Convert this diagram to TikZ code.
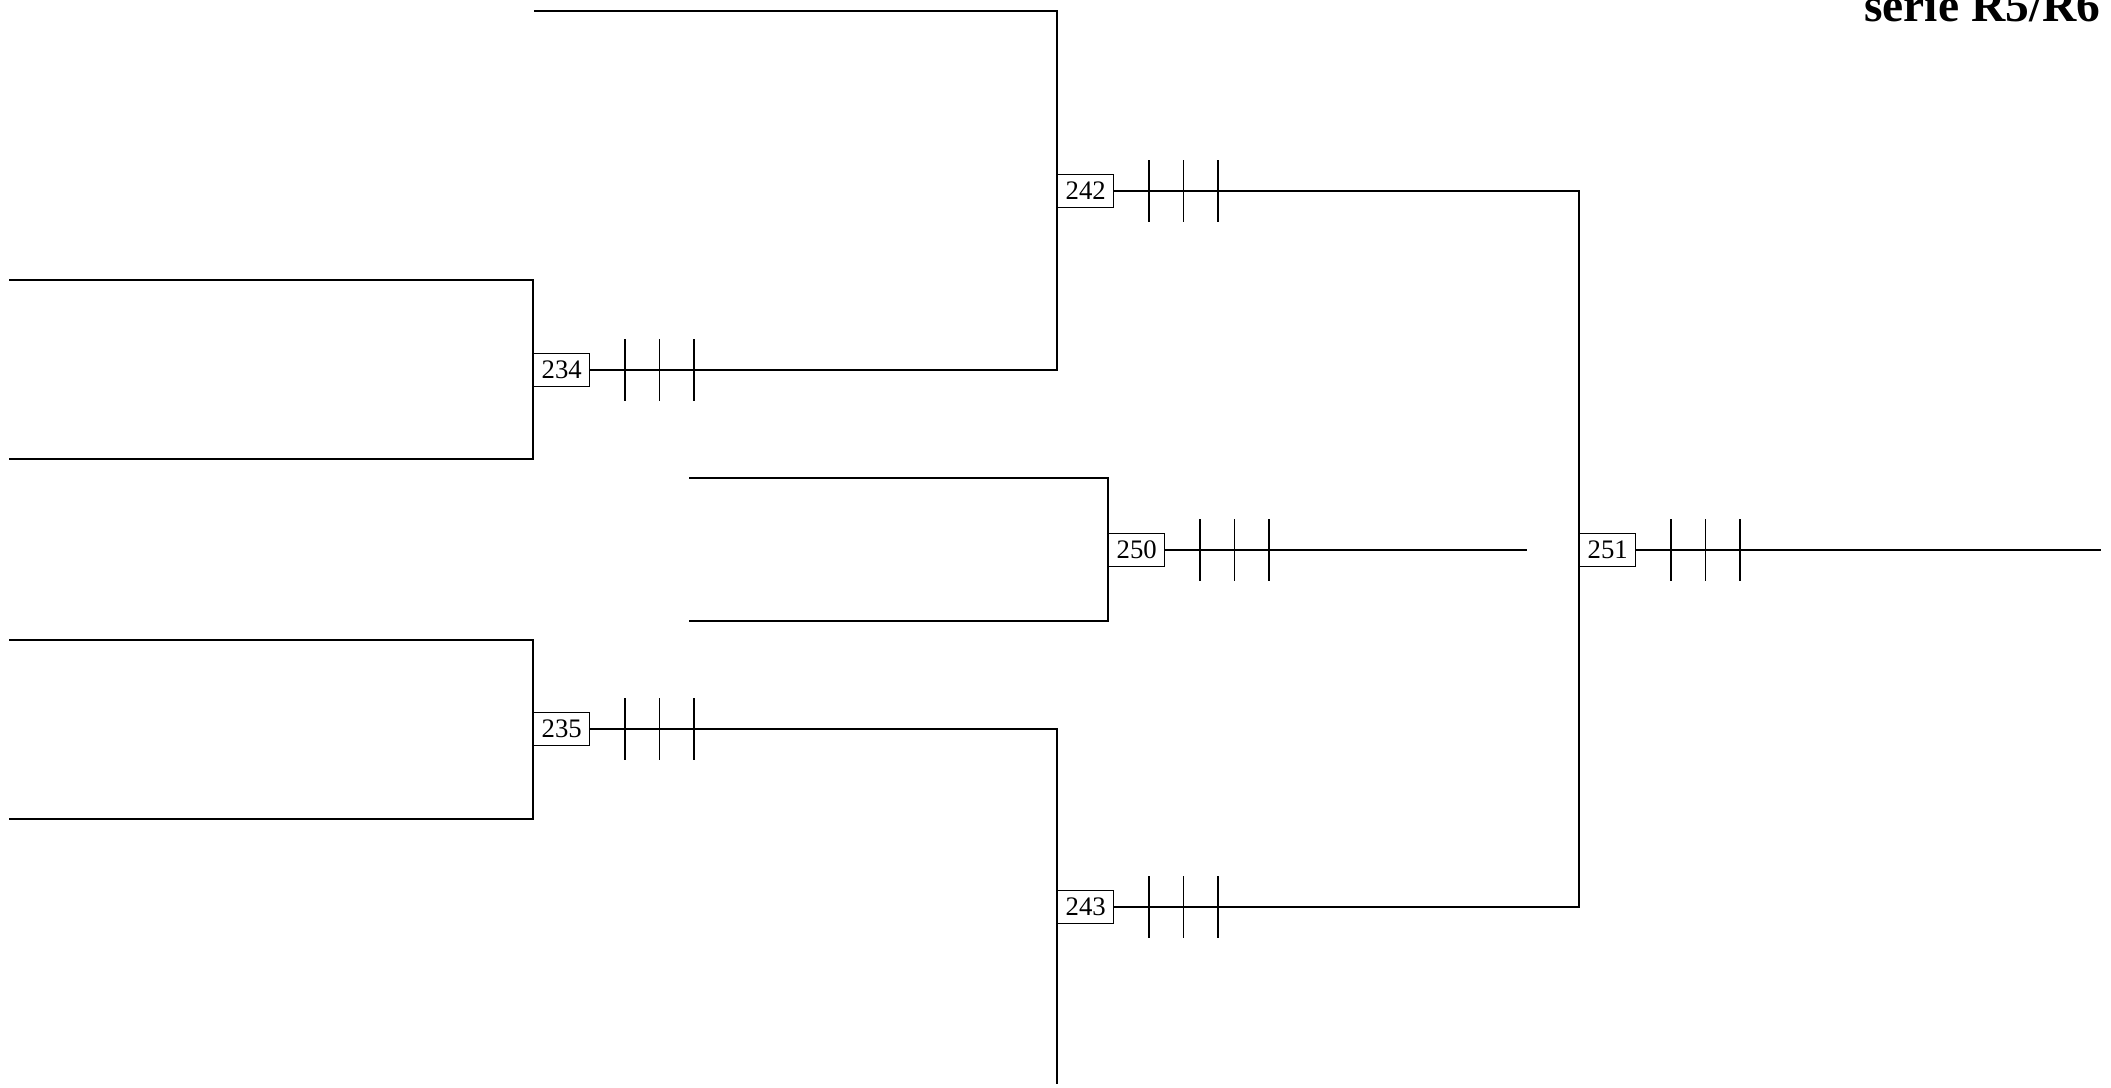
\documentclass[tikz,border=0pt]{standalone}
\usepackage{fontspec}
\setmainfont{Liberation Serif}
\begin{document}
\begin{tikzpicture}[x=0.01cm, y=-0.01cm, line width=0.4pt,
    match/.style={draw, fill=white, anchor=west, inner sep=0pt,
      minimum width=0.56cm, minimum height=0.33cm,
      font=\fontsize{7.6}{9}\selectfont}]
  \useasboundingbox (0,0) rectangle (2111,1087);
  % title
  \node[anchor=base east, inner sep=0pt, font=\fontsize{13.5}{16}\selectfont\bfseries]
    (title) at (2101,21) {serie R5/R6};
  % match boxes
  \node[match] (b234) at (533,370) {234};
  \node[match] (b235) at (533,729) {235};
  \node[match] (b242) at (1057,191) {242};
  \node[match] (b243) at (1057,907) {243};
  \node[match] (b250) at (1108,550) {250};
  \node[match] (b251) at (1579,550) {251};
  % free ends
  \coordinate (t234) at (9,280);   \coordinate (u234) at (9,459);
  \coordinate (t235) at (9,640);   \coordinate (u235) at (9,819);
  \coordinate (t242) at (534,11);  \coordinate (e243) at (1057,1084);
  \coordinate (t250) at (689,478); \coordinate (u250) at (689,621);
  \coordinate (e250) at (1527,550);
  \coordinate (e251) at (2101,550);
  % brackets
  \draw (t234) -| (b234.west) |- (u234);
  \draw (t235) -| (b235.west) |- (u235);
  \draw (t242) -| (b242.west) |- (b234.east);
  \draw (b235.east) -| (b243.west) -- (e243);
  \draw (t250) -| (b250.west) |- (u250);
  \draw (b250.east) -- (e250);
  \draw (b242.east) -| (b251.west) |- (b243.east);
  \draw (b251.east) -- (e251);
  % ticks
  \foreach \b in {b234,b235,b242,b243,b250,b251}
    \foreach \d in {34.5,69,103.5}
      \draw ([xshift=\d*0.01cm]\b.east) ++(0,-31) -- ++(0,62);
\end{tikzpicture}
\end{document}
